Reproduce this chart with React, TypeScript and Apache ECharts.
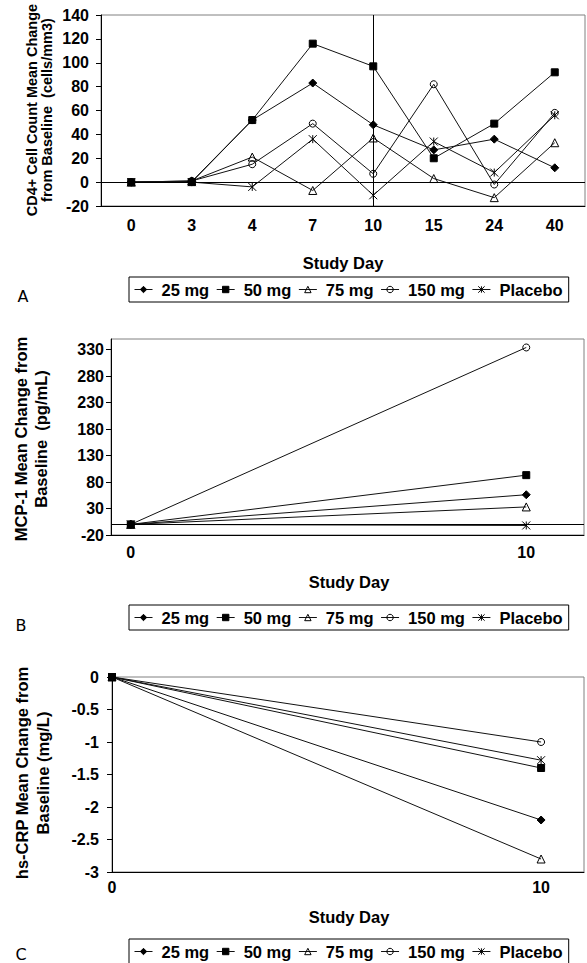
import React, { useEffect, useRef } from "react";
import * as echarts from "echarts";

// ---------- data ----------
const seriesNames = ["25 mg", "50 mg", "75 mg", "150 mg", "Placebo"];

// Panel A: CD4+ cell count mean change (cells/mm3)
const daysA = ["0", "3", "4", "7", "10", "15", "24", "40"];
const cd4_25 = [0, 0.5, 52, 83, 48, 27, 36, 12];
const cd4_50 = [0, 0, 52, 116, 97, 20, 49, 92];
const cd4_75 = [0, 1, 21, -7, 37, 3, -13, 33];
const cd4_150 = [0, 1, 15, 49, 7, 82, -2, 58];
const cd4_pl = [0, 0, -4, 36, -11, 34, 8, 56];

// Panel B: MCP-1 mean change (pg/mL)
const daysBC = [0, 10];
const mcp_25 = [0, 56];
const mcp_50 = [0, 93];
const mcp_75 = [0, 33];
const mcp_150 = [0, 334];
const mcp_pl = [0, -2];

// Panel C: hs-CRP mean change (mg/L)
const crp_25 = [0, -2.2];
const crp_50 = [0, -1.4];
const crp_75 = [0, -2.8];
const crp_150 = [0, -1.0];
const crp_pl = [0, -1.28];

const yTicksA = { min: -20, max: 140, interval: 20 };
const yTicksB = { min: -20, max: 350, interval: 50 };
const yTicksC = { min: -3, max: 0, interval: 0.5 };
const xLabelsBC = [0, 10];

// ---------- styles ----------
const FF = "Liberation Sans, Arial, Helvetica, sans-serif";
const STAR = "path://M0,0L10,10M10,0L0,10M5,0L5,10";
const SYM: Record<string, { symbol: string; size: number; fill: string }> = {
  "25 mg": { symbol: "diamond", size: 8, fill: "#000" },
  "50 mg": { symbol: "rect", size: 7, fill: "#000" },
  "75 mg": { symbol: "triangle", size: 8, fill: "rgba(255,255,255,0)" },
  "150 mg": { symbol: "circle", size: 7, fill: "rgba(255,255,255,0)" },
  Placebo: { symbol: STAR, size: 8, fill: "#000" },
};

function mkSeries(name: string, data: any[], gi: number, markLine?: any) {
  const s = SYM[name];
  const o: any = {
    type: "line",
    name,
    xAxisIndex: gi,
    yAxisIndex: gi,
    data,
    symbol: s.symbol,
    symbolSize: s.size,
    showAllSymbol: true,
    lineStyle: { color: "#111", width: 1 },
    itemStyle: { color: s.fill, borderColor: "#000", borderWidth: 1 },
    emphasis: { disabled: true },
    z: 3,
  };
  if (markLine) o.markLine = markLine;
  return o;
}

const pairs = (xs: number[], ys: number[]) => xs.map((x, i) => [x, ys[i]]);

function yAxis(gi: number, t: any, margin: number, extra: any = {}) {
  return {
    gridIndex: gi,
    type: "value",
    min: t.min,
    max: t.max,
    interval: t.interval,
    axisLine: { show: true, onZero: false, lineStyle: { color: "#000", width: 1 } },
    axisTick: { show: true, inside: false, length: 5, lineStyle: { color: "#000" } },
    splitLine: { show: false },
    axisLabel: {
      color: "#000",
      fontFamily: FF,
      fontWeight: "bold",
      fontSize: 16,
      margin,
      ...extra,
    },
  };
}

function legend(top: number) {
  return {
    left: 129,
    top,
    orient: "horizontal",
    itemWidth: 18,
    itemHeight: 8,
    itemGap: 7,
    borderColor: "#000",
    borderWidth: 1,
    padding: [4, 6, 4, 5],
    selectedMode: false,
    textStyle: { fontFamily: FF, fontWeight: "bold", fontSize: 16.5, color: "#000", padding: [0, 0, 0, 4] },
    data: seriesNames.map((n) => ({
      name: n,
      itemStyle: { color: SYM[n].fill, borderColor: "#000", borderWidth: 1 },
      lineStyle: { color: "#111", width: 1 },
    })),
  };
}

function titleText(x: number, y: number, text: string, size: number, lh: number) {
  return {
    type: "text",
    x,
    y,
    rotation: Math.PI / 2,
    style: {
      text,
      font: `bold ${size}px ${FF}`,
      fill: "#000",
      textAlign: "center",
      textVerticalAlign: "middle",
      lineHeight: lh,
    },
  };
}

function plainText(x: number, y: number, text: string, font: string) {
  return {
    type: "text",
    x,
    y,
    style: { text, font, fill: "#000", textAlign: "center", textVerticalAlign: "middle" },
  };
}

const refLines = (extra: any[] = []) => ({
  silent: true,
  symbol: ["none", "none"],
  label: { show: false },
  lineStyle: { color: "#000", width: 1, type: "solid" },
  data: [{ yAxis: 0 }, ...extra],
});

const pickLabel = (v: number) =>
  xLabelsBC.some((t) => Math.abs(v - t) < 1e-9) ? String(Math.round(v)) : "";

export default function App() {
  const ref = useRef<HTMLDivElement>(null);
  useEffect(() => {
    if (!ref.current) return;
    const chart = echarts.init(ref.current, null, { renderer: "svg" });
    const gridStyle = { show: true, borderColor: "#808080", borderWidth: 1, backgroundColor: "transparent" };
    const xLab = (margin: number, extra: any = {}) => ({
      color: "#000",
      fontFamily: FF,
      fontWeight: "bold",
      fontSize: 16,
      margin,
      ...extra,
    });
    const option: any = {
      animation: false,
      backgroundColor: "#fff",
      grid: [
        { left: 101, top: 15, width: 484, height: 191, ...gridStyle },
        { left: 111, top: 339, width: 475, height: 196, ...gridStyle },
        { left: 112, top: 677, width: 474, height: 195, ...gridStyle },
      ],
      xAxis: [
        {
          gridIndex: 0,
          type: "category",
          data: daysA,
          boundaryGap: true,
          axisLine: { show: true, onZero: false, lineStyle: { color: "#000" } },
          axisTick: { show: false },
          axisLabel: xLab(11),
        },
        {
          gridIndex: 1,
          type: "value",
          min: -0.5,
          max: 11.46,
          interval: 0.5,
          axisLine: { show: true, onZero: false, lineStyle: { color: "#000" } },
          axisTick: { show: false },
          splitLine: { show: false },
          axisLabel: xLab(9, { formatter: pickLabel }),
        },
        {
          gridIndex: 2,
          type: "value",
          min: 0,
          max: 11,
          interval: 1,
          axisLine: { show: true, onZero: false, lineStyle: { color: "#000" } },
          axisTick: { show: false },
          splitLine: { show: false },
          axisLabel: xLab(7, { formatter: pickLabel }),
        },
      ],
      yAxis: [
        yAxis(0, yTicksA, 12),
        yAxis(1, yTicksB, 7, { showMaxLabel: false }),
        yAxis(2, yTicksC, 13),
      ],
      legend: [legend(277), legend(605), legend(939)],
      series: [
        mkSeries("25 mg", cd4_25, 0, refLines([{ xAxis: 4 }])),
        mkSeries("50 mg", cd4_50, 0),
        mkSeries("75 mg", cd4_75, 0),
        mkSeries("150 mg", cd4_150, 0),
        mkSeries("Placebo", cd4_pl, 0),
        mkSeries("25 mg", pairs(daysBC, mcp_25), 1, refLines()),
        mkSeries("50 mg", pairs(daysBC, mcp_50), 1),
        mkSeries("75 mg", pairs(daysBC, mcp_75), 1),
        mkSeries("150 mg", pairs(daysBC, mcp_150), 1),
        mkSeries("Placebo", pairs(daysBC, mcp_pl), 1),
        mkSeries("25 mg", pairs(daysBC, crp_25), 2),
        mkSeries("50 mg", pairs(daysBC, crp_50), 2),
        mkSeries("75 mg", pairs(daysBC, crp_75), 2),
        mkSeries("150 mg", pairs(daysBC, crp_150), 2),
        mkSeries("Placebo", pairs(daysBC, crp_pl), 2),
      ],
      graphic: [
        titleText(39, 110, "CD4+ Cell Count Mean Change\nfrom Baseline  (cells/mm3)", 14.5, 15),
        titleText(31, 439, "MCP-1 Mean Change from\nBaseline  (pg/mL)", 16.5, 20),
        titleText(32, 773, "hs-CRP Mean Change from\nBaseline (mg/L)", 16.5, 21),
        plainText(343, 263, "Study Day", `bold 16.5px ${FF}`),
        plainText(349, 582, "Study Day", `bold 16.5px ${FF}`),
        plainText(349, 917, "Study Day", `bold 16.5px ${FF}`),
        plainText(23, 296, "A", `16px DejaVu Sans, sans-serif`),
        plainText(21, 625, "B", `16px DejaVu Sans, sans-serif`),
        plainText(21, 954, "C", `16px DejaVu Sans, sans-serif`),
      ],
    };
    chart.setOption(option);
    return () => chart.dispose();
  }, []);
  return (
    <div
      ref={ref}
      style={{ position: "absolute", left: 0, top: 0, width: 587, height: 963, background: "#fff" }}
    />
  );
}
